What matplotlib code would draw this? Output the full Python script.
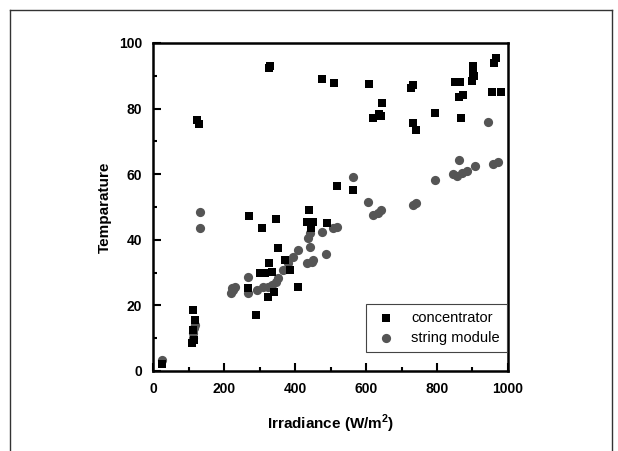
import numpy as np
import matplotlib.pyplot as plt
from matplotlib.lines import Line2D
from matplotlib.ticker import MultipleLocator

# =====================
# DATA
# =====================
conc_x = [25, 113, 110, 115, 112, 118, 124, 130, 330, 326,
          270, 306, 346, 353, 290, 268, 324, 341, 301, 315,
          327, 334, 372, 386, 409, 439, 433, 451, 445, 490,
          476, 510, 518, 563, 608, 620, 642, 645, 636,
          732, 728, 732, 741, 794,
          850, 865, 873, 862, 867,
          901, 902, 900, 903, 961, 966, 955, 980]
conc_y = [2.2, 18.6, 8.5, 9.5, 12.5, 15.5, 76.5, 75.3, 93, 92.3,
          47.3, 43.6, 46.3, 37.5, 17, 25.3, 22.6, 24.1, 29.9, 29.9,
          32.9, 30.2, 33.8, 30.8, 25.6, 49, 45.4, 45.4, 43.6, 45.1,
          89, 87.8, 56.4, 55.2, 87.5, 77.1, 77.7, 81.7, 78.2,
          87.2, 86.4, 75.6, 73.5, 78.7,
          88.1, 88.1, 84.2, 83.5, 77,
          93, 91, 88.5, 90, 94, 95.3, 85, 85]

str_x = [25, 112, 114, 116, 118, 132, 132,
         220, 225, 231, 223, 268, 268, 293, 310, 324, 335, 346, 352, 366,
         380, 394, 408, 442, 437, 442, 433, 451, 448, 487, 476, 507, 518,
         563, 606, 619, 634, 641, 732, 741, 794,
         845, 855, 862, 870, 885, 907, 944, 958, 972]
str_y = [3.4, 10, 11.5, 13, 14, 48.5, 43.6,
         23.8, 24.7, 25.6, 25.3, 28.7, 23.8, 24.7, 25.6, 25.6, 26.2, 27.1, 28.4, 30.8,
         32.9, 34.8, 36.9, 37.8, 40.5, 42, 32.9, 33.8, 33.3, 35.7, 42.4, 43.6, 44,
         59.2, 51.5, 47.6, 48.2, 49, 50.6, 51.2, 58.2,
         60, 59.5, 64.3, 60.5, 61, 62.5, 76, 63, 63.7]

plt.rcParams['font.family'] = ['Liberation Sans', 'DejaVu Sans']

fig = plt.figure(figsize=(6.18, 4.51), dpi=100)
ax = fig.add_axes([0.2476, 0.1774, 0.5744, 0.7273])

ax.scatter(conc_x, conc_y, marker='s', s=28, color='black', lw=0, label='concentrator', zorder=3)
ax.scatter(str_x, str_y, marker='o', s=44, color='#555555', lw=0, label='string module', zorder=2)

ax.set_xlim(0, 1000)
ax.set_ylim(0, 100)
ax.xaxis.set_major_locator(MultipleLocator(200))
ax.xaxis.set_minor_locator(MultipleLocator(100))
ax.yaxis.set_major_locator(MultipleLocator(20))
ax.yaxis.set_minor_locator(MultipleLocator(10))
ax.tick_params(which='major', direction='in', length=6, width=1.5, labelsize=10, pad=8)
ax.tick_params(which='minor', direction='in', length=3, width=1.5)
for lab in ax.get_xticklabels() + ax.get_yticklabels():
    lab.set_fontweight('bold')
for sp in ax.spines.values():
    sp.set_linewidth(1.8)

ax.set_xlabel('Irradiance (W/m$^\\mathregular{2}$)', fontsize=11, fontweight='bold', labelpad=12)
ax.set_ylabel('Temparature', fontsize=11, fontweight='bold', labelpad=5)

leg = ax.legend(loc='lower right', bbox_to_anchor=(0.997, 0.058), borderaxespad=0, fontsize=10.5,
                fancybox=False, framealpha=1, edgecolor='#444444', handletextpad=0.8,
                borderpad=0.5, labelspacing=0.4, scatterpoints=1, handlelength=1.8)
leg.get_frame().set_linewidth(0.8)

# outer frame (open at the bottom)
W, H = 618, 451
frame = [([10, 10], [0, H - 10]), ([10, 612], [H - 10, H - 10]), ([612, 612], [H - 10, 0])]
for xs, ys in frame:
    fig.add_artist(Line2D([x / W for x in xs], [y / H for y in ys], color='#333333', lw=1,
                          transform=fig.transFigure))

fig.savefig('out.png', dpi=100)
